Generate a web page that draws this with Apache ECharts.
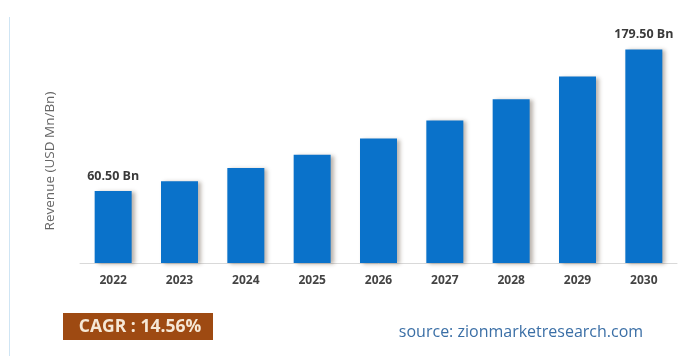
<!DOCTYPE html>
<html>
<head>
<meta charset="utf-8">
<script src="https://cdn.jsdelivr.net/npm/echarts@6/dist/echarts.min.js"></script>
<style>
  html, body { margin: 0; padding: 0; background: #ffffff; }
  #chart { width: 699px; height: 356px; }
</style>
</head>
<body>
<div id="chart"></div>
<script>
// Market revenue by year (USD Bn)
const years = ['2022', '2023', '2024', '2025', '2026', '2027', '2028', '2029', '2030'];
const revenue = [60.5, 68.8, 79.9, 91.0, 104.6, 119.8, 137.6, 156.7, 179.5];
// Only the first and last bars carry a value label
const labelledYears = ['2022', '2030'];
const axisTitle = 'Revenue (USD Mn/Bn)';
const cagrText = 'CAGR : 14.56%';
const sourceText = 'source: zionmarketresearch.com';

const chart = echarts.init(document.getElementById('chart'), null, { renderer: 'canvas' });

const barData = years.map((y, i) => ({
  value: revenue[i],
  label: {
    show: labelledYears.includes(y),
    position: 'top',
    distance: 8,
    formatter: p => p.value.toFixed(2) + ' Bn',
    color: '#3a3a3a',
    fontSize: 12.5,
    fontWeight: 'bold',
    fontFamily: 'Open Sans'
  }
}));

chart.setOption({
  animation: false,
  backgroundColor: '#ffffff',
  grid: { left: 80, right: 22, top: 25, bottom: 93, containLabel: false },
  xAxis: {
    type: 'category',
    data: years,
    axisLine: { show: true, lineStyle: { color: '#d9d9d9', width: 1 } },
    axisTick: { show: false },
    axisLabel: {
      color: '#444444',
      fontSize: 12,
      fontWeight: 'bold',
      fontFamily: 'Open Sans',
      margin: 12
    }
  },
  yAxis: {
    type: 'value',
    min: 0,
    max: 200,
    axisLine: { show: false },
    axisTick: { show: false },
    axisLabel: { show: false },
    splitLine: { show: false }
  },
  series: [{
    type: 'bar',
    data: barData,
    barWidth: 37,
    itemStyle: {
      color: '#0a72ca',
      shadowColor: 'rgba(60,40,20,0.35)',
      shadowBlur: 4,
      shadowOffsetX: 3,
      shadowOffsetY: 1
    }
  }],
  graphic: [
    {
      type: 'line',
      shape: { x1: 9.5, y1: 17, x2: 9.5, y2: 356 },
      style: { stroke: '#cfe5f4', lineWidth: 1 },
      silent: true
    },
    {
      // rotated value-axis title
      type: 'text',
      x: 50,
      y: 161,
      rotation: Math.PI / 2,
      style: {
        text: axisTitle,
        fill: '#666666',
        fontSize: 13.5,
        fontFamily: 'Open Sans',
        align: 'center',
        verticalAlign: 'middle'
      }
    },
    {
      type: 'group',
      left: 63,
      top: 313,
      children: [
        {
          type: 'rect',
          shape: { x: 0, y: 0, width: 150, height: 27 },
          style: { fill: '#9e4a12' }
        },
        {
          type: 'text',
          x: 77,
          y: 14,
          style: {
            text: cagrText,
            fill: '#f6e8d6',
            fontSize: 17.5,
            fontWeight: 'bold',
            fontFamily: 'Open Sans',
            align: 'center',
            verticalAlign: 'middle'
          }
        }
      ]
    },
    {
      type: 'text',
      x: 521,
      y: 332,
      style: {
        text: sourceText,
        fill: '#3b6fa6',
        fontSize: 16,
        fontFamily: 'Open Sans',
        align: 'center',
        verticalAlign: 'middle'
      }
    }
  ]
});
</script>
</body>
</html>
